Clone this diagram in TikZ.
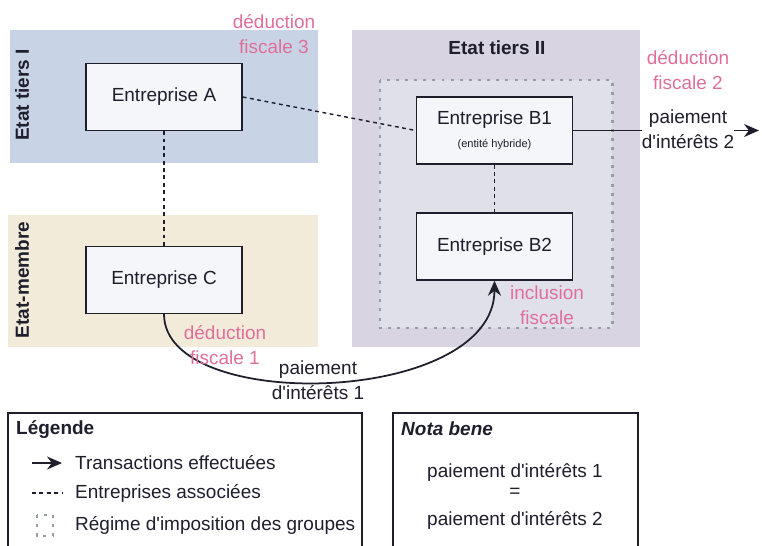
\documentclass[tikz,border=0pt]{standalone}
\usepackage{fontspec}
\setmainfont{Liberation Sans}[Ligatures=TeXOff]
\usetikzlibrary{arrows.meta, positioning, calc}

\definecolor{tiersone}{RGB}{200,212,230}
\definecolor{membre}{RGB}{243,235,218}
\definecolor{tierstwo}{RGB}{216,212,226}
\definecolor{groupfill}{RGB}{224,224,232}
\definecolor{firmfill}{RGB}{245,246,249}
\definecolor{inkline}{RGB}{30,30,45}
\definecolor{deducpink}{RGB}{224,110,155}
\definecolor{dotgray}{RGB}{150,158,165}

\newcommand\mainsize{\fontsize{10.8}{14.2}\selectfont}

\begin{document}
\begin{tikzpicture}[
    firm/.style={rectangle, draw=inkline, fill=firmfill, line width=0.8pt, minimum width=3.12cm, minimum height=1.34cm, font=\mainsize, text=inkline},
    assoc/.style={draw=inkline, line width=0.8pt, dash pattern=on 2.2pt off 2pt},
    groupe/.style={draw=dotgray, line width=1.7pt, dash pattern=on 1.7pt off 3.5pt},
    pay/.style={-{Stealth[length=3mm,width=2.6mm]}, draw=inkline, line width=1pt},
    ded/.style={text=deducpink, align=center, font=\mainsize},
    txt/.style={align=center, font=\mainsize, text=inkline},
    statelbl/.style={font=\mainsize\bfseries, rotate=90, text=inkline},
    boxline/.style={draw=inkline, line width=0.7pt}
]
\useasboundingbox (0,0) rectangle (15.24,10.9);

% ===== STATES =====
\fill[tiersone] (0.2,10.3) rectangle (6.36,7.64);
\fill[membre] (0.16,6.6) rectangle (6.36,3.96);
\fill[tierstwo] (7.04,10.3) rectangle (12.8,3.96);

% Group taxation regime (dotted frame)
\fill[groupfill] (7.6,9.3) rectangle (12.24,4.34);
\draw[groupe] (7.6,9.3) rectangle (12.24,4.34);

\node[statelbl] (lblI) at (0.44,9.0) {Etat tiers I};
\node[statelbl] (lblM) at (0.44,5.3) {Etat-membre};
\node[txt, font=\mainsize\bfseries] (lblII) at (9.94,9.94) {Etat tiers II};

% ===== ENTERPRISES =====
\node[firm] (entA) at (3.28,8.96) {Entreprise A};
\node[firm] (entC) at (3.28,5.3) {Entreprise C};
\node[firm, align=center] (entB1) at (9.89,8.29) {Entreprise B1\\[-1pt]{\fontsize{6.3}{7}\selectfont (entité hybride)}};
\node[firm] (entB2) at (9.89,5.97) {Entreprise B2};

% Associated enterprises
\draw[assoc] (entA.east) -- (entB1.west);
\draw[assoc] (entA.south) -- (entC.north);
\draw[assoc] (entB1.south) -- (entB2.north);

% Interest payments
\draw[pay] (entC.south) .. controls +(0,-2.0) and +(0,-2.5) .. (entB2.south);
\coordinate (out2) at (15.18,8.29);
\draw[pay] (entB1.east) -- (out2);

% ===== LABELS =====
\node[ded] (ded3) at (5.48,10.22) {déduction\\fiscale 3};
\node[ded] (ded2) at (13.76,9.5) {déduction\\fiscale 2};
\node[txt, fill=white, inner sep=0pt] (pay2) at (13.76,8.32) {paiement\\d'intérêts 2};
\node[ded] (ded1) at (4.5,4.0) {déduction\\fiscale 1};
\node[txt] (pay1) at (6.36,3.3) {paiement\\d'intérêts 1};
\node[ded] (incl) at (10.94,4.8) {inclusion\\fiscale};

% ===== LEGEND =====
\draw[boxline] (0.16,-0.2) |- (7.24,2.64) -- (7.24,-0.2);
\node[txt, font=\mainsize\bfseries, anchor=west] (legtitle) at (0.2,2.3) {Légende};
\coordinate (legA1) at (0.64,1.64);
\coordinate (legA2) at (1.24,1.64);
\draw[pay] (legA1) -- (legA2);
\node[txt, anchor=west] (legtrans) at (1.38,1.64) {Transactions effectuées};
\coordinate (legD1) at (0.64,1.04);
\coordinate (legD2) at (1.24,1.04);
\draw[assoc, line width=0.7pt] (legD1) -- (legD2);
\node[txt, anchor=west] (legassoc) at (1.38,1.04) {Entreprises associées};
\draw[groupe, line width=1.3pt] (0.74,0.6) rectangle (1.06,0.18);
\node[txt, anchor=west] (legregime) at (1.38,0.4) {Régime d'imposition des groupes};

% ===== NOTA BENE =====
\draw[boxline] (7.86,-0.2) |- (12.76,2.64) -- (12.76,-0.2);
\node[txt, font=\mainsize\bfseries\itshape, anchor=west] (nbtitle) at (7.9,2.33) {Nota bene};
\node[txt] (nb1) at (10.3,1.46) {paiement d'intérêts 1};
\node[txt] (nbeq) at (10.3,1.04) {=};
\node[txt] (nb2) at (10.3,0.5) {paiement d'intérêts 2};

\end{tikzpicture}
\end{document}
